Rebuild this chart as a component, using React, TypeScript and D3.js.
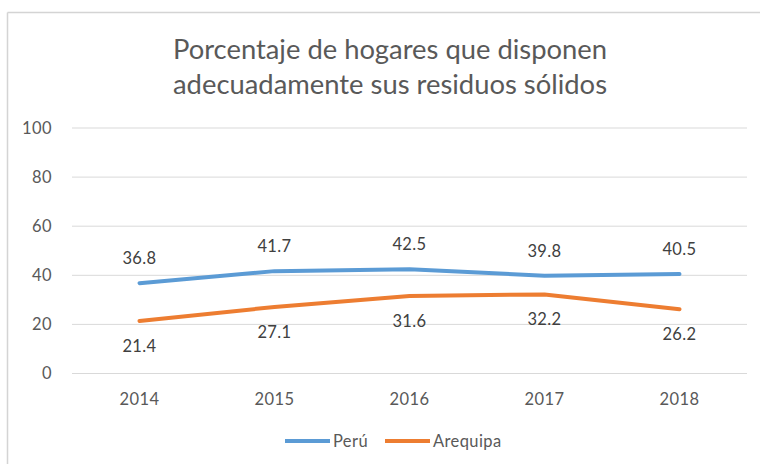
import React from "react";
import * as d3 from "d3";

const years = ["2014", "2015", "2016", "2017", "2018"];
const peru = [36.8, 41.7, 42.5, 39.8, 40.5];
const arequipa = [21.4, 27.1, 31.6, 32.2, 26.2];
const yTicks = [0, 20, 40, 60, 80, 100];
const titleLines = ["Porcentaje de hogares que disponen", "adecuadamente sus residuos sólidos"];
const seriesNames = ["Perú", "Arequipa"];

const W = 760, H = 464;
const FONT = "Lato, 'Open Sans', sans-serif";
const BLUE = "#5B9BD5";
const ORANGE = "#ED7D31";

export default function App() {
  const x = d3.scaleBand<string>().domain(years).range([72, 747]);
  const y = d3.scaleLinear().domain([0, 100]).range([373.5, 128]);
  const cx = (d: string) => (x(d) as number) + x.bandwidth() / 2;
  const line = d3.line<number>().x((_, i) => cx(years[i])).y((v) => y(v));
  const lbl = { fontFamily: FONT, fontSize: 16.5, letterSpacing: 0.4 };

  return (
    <svg width={W} height={H} style={{ position: "absolute", left: 0, top: 0, background: "#fff" }}>
      <rect x={0} y={0} width={W} height={H} fill="#fff" />
      <line x1={7.5} y1={12.5} x2={W} y2={12.5} stroke="#d4d4d4" strokeWidth={1.5} />
      <line x1={7.5} y1={12.5} x2={7.5} y2={H} stroke="#d4d4d4" strokeWidth={1.5} />
      {titleLines.map((t, i) => (
        <text key={t} x={390} y={59 + i * 35} textAnchor="middle" fontFamily={FONT} fontSize={26}
          textLength={434} lengthAdjust="spacingAndGlyphs" fill="#595959">
          {t}
        </text>
      ))}
      {yTicks.map((t) => (
        <g key={t}>
          <line x1={72} x2={747} y1={y(t)} y2={y(t)} stroke="#d9d9d9" strokeWidth={1} />
          <text x={52} y={y(t)} dy="0.35em" textAnchor="end" {...lbl} fill="#595959">
            {t}
          </text>
        </g>
      ))}
      {years.map((yr) => (
        <text key={yr} x={cx(yr)} y={399} dy="0.35em" textAnchor="middle" {...lbl} fill="#595959">
          {yr}
        </text>
      ))}
      <path d={line(peru) || ""} fill="none" stroke={BLUE} strokeWidth={4} strokeLinejoin="round" strokeLinecap="round" />
      <path d={line(arequipa) || ""} fill="none" stroke={ORANGE} strokeWidth={4} strokeLinejoin="round" strokeLinecap="round" />
      {peru.map((v, i) => (
        <text key={"p" + i} x={cx(years[i])} y={y(v) - 25} dy="0.35em" textAnchor="middle" {...lbl} fill="#404040">
          {v.toFixed(1)}
        </text>
      ))}
      {arequipa.map((v, i) => (
        <text key={"a" + i} x={cx(years[i])} y={y(v) + 25} dy="0.35em" textAnchor="middle" {...lbl} fill="#404040">
          {v.toFixed(1)}
        </text>
      ))}
      <g>
        <line x1={285} x2={330} y1={441} y2={441} stroke={BLUE} strokeWidth={4} />
        <text x={333} y={441} dy="0.35em" {...lbl} fill="#595959">{seriesNames[0]}</text>
        <line x1={385} x2={430} y1={441} y2={441} stroke={ORANGE} strokeWidth={4} />
        <text x={433} y={441} dy="0.35em" {...lbl} fill="#595959">{seriesNames[1]}</text>
      </g>
    </svg>
  );
}
